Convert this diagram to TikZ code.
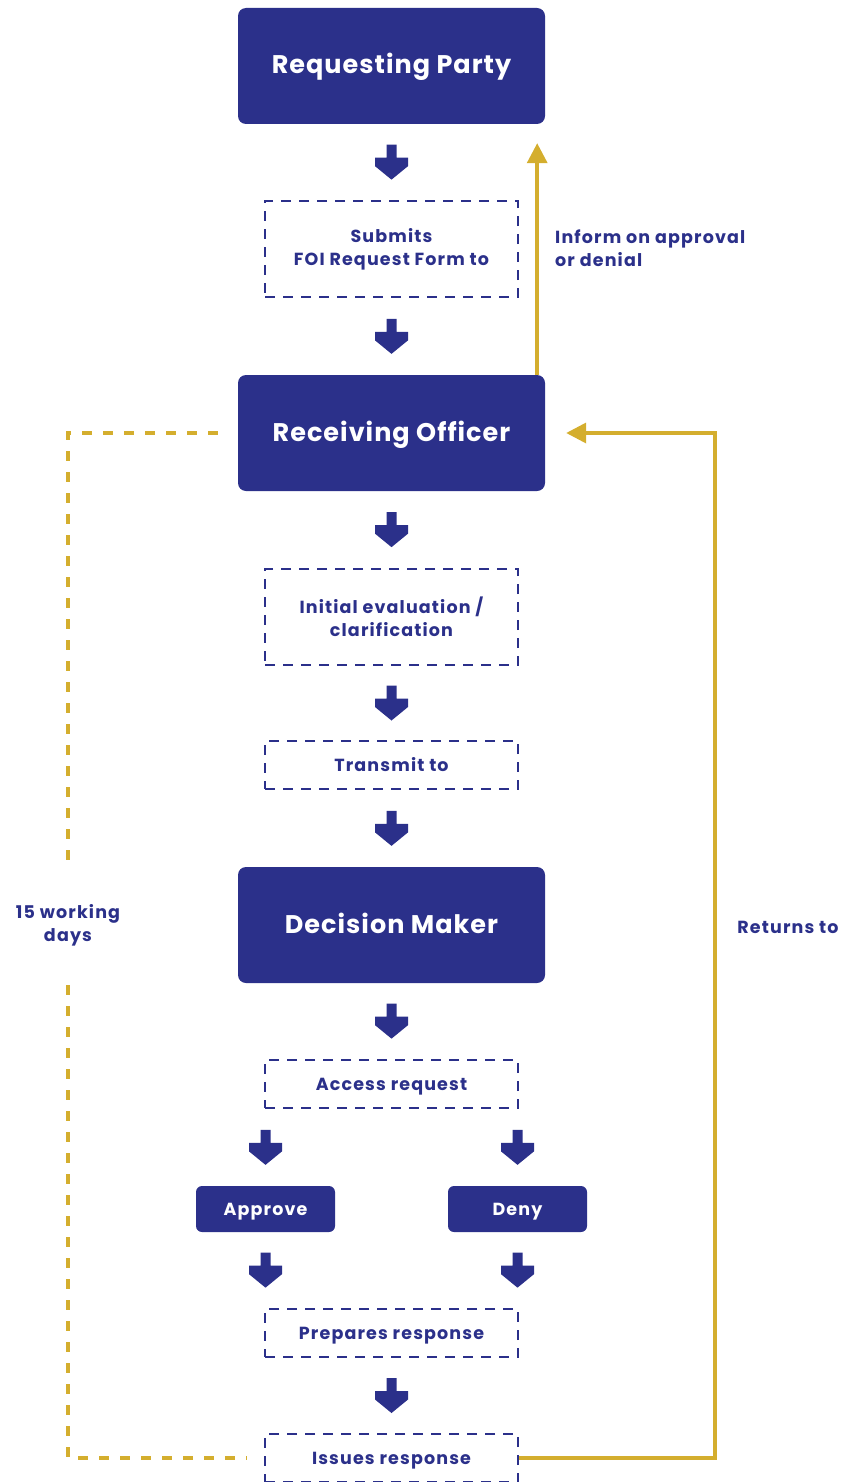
\documentclass[tikz,border=0pt]{standalone}
\usepackage{fontspec}
\setmainfont{Poppins}
\usetikzlibrary{arrows.meta,calc}
\definecolor{navy}{RGB}{43,48,138}
\definecolor{gold}{RGB}{212,174,46}
\newcommand{\bigtxt}{\fontsize{25.5}{30}\selectfont\bfseries\addfontfeatures{LetterSpace=4}}
\newcommand{\smtxt}{\fontsize{17.5}{23}\selectfont\bfseries\addfontfeatures{LetterSpace=6.5}}
\begin{document}
\begin{tikzpicture}[x=1pt,y=-1pt,
  oneline/.style={text height=13pt, text depth=0pt},
  mainbox/.style={rectangle, rounded corners=8pt, fill=navy, text=white,
    minimum width=307pt, minimum height=116pt, inner sep=0pt,
    text height=16pt, text depth=0pt, font=\bigtxt},
  dbox/.style={rectangle, draw=navy, line width=1.8pt, dash pattern=on 10pt off 8pt,
    minimum width=253pt, minimum height=48pt, inner sep=0pt, text=navy, align=center,
    font=\smtxt},
  smallbox/.style={rectangle, rounded corners=6pt, fill=navy, text=white,
    minimum width=139pt, minimum height=46pt, inner sep=0pt, oneline,
    font=\smtxt},
  lbl/.style={text=navy, inner sep=0pt, font=\smtxt},
  ysolid/.style={draw=gold, line width=3.5pt, -{Triangle[length=20pt,width=20pt]}},
  ydash/.style={draw=gold, line width=4pt, dash pattern=on 10pt off 11pt},
  dn/.pic={\fill[navy] (-5,-17.5) -- (5,-17.5) -- (5,-4.5) -- (16.5,-4.5) -- (16.5,4) -- (0,17.5)
     -- (-16.5,4) -- (-16.5,-4.5) -- (-5,-4.5) -- cycle;}
]
\useasboundingbox (0,0) rectangle (844,1482);

\node[mainbox] (req) at (391.5,66) {Requesting Party};
\node[dbox, minimum height=96pt] (submit) at (391.5,249) {Submits\\FOI Request Form to};
\node[mainbox] (ro) at (391.5,433) {Receiving Officer};
\node[dbox, minimum height=96pt] (eval) at (391.5,617) {Initial evaluation /\\clarification};
\node[dbox, oneline] (trans) at (391.5,765) {Transmit to};
\node[mainbox] (dm) at (391.5,925) {Decision Maker};
\node[dbox, oneline] (access) at (391.5,1084) {Access request};
\node[smallbox] (approve) at (265.5,1209) {Approve};
\node[smallbox] (deny) at (517.5,1209) {Deny};
\node[dbox, oneline] (prep) at (391.5,1333) {Prepares response};
\node[dbox, oneline] (issues) at (391.5,1458) {Issues response};

% block arrows
\pic at ($(req.south)!0.5!(submit.north)$) {dn};
\pic at ($(submit.south)!0.5!(ro.north)$) {dn};
\pic at ($(ro.south)!0.5!(eval.north)$) {dn};
\pic at ($(eval.south)!0.5!(trans.north)$) {dn};
\pic at ($(trans.south)!0.5!(dm.north)$) {dn};
\pic at ($(dm.south)!0.5!(access.north)$) {dn};
\pic at ($(approve.north)!0.5!(approve.north|-access.south)$) {dn};
\pic at ($(deny.north)!0.5!(deny.north|-access.south)$) {dn};
\pic at ($(approve.south)!0.5!(approve.south|-prep.north)$) {dn};
\pic at ($(deny.south)!0.5!(deny.south|-prep.north)$) {dn};
\pic at ($(prep.south)!0.5!(issues.north)$) {dn};

% yellow connectors
\coordinate (upstart) at ([xshift=-8pt]ro.north east);
\coordinate (uptip) at ([xshift=-8pt,yshift=-19pt]req.south east);
\draw[ysolid] (upstart) -- (uptip);
\node[lbl, anchor=west, align=left] (inform) at (555,248) {Inform on approval\\or denial};

\coordinate (rettip) at ([xshift=21pt]ro.east);
\coordinate (retcorner) at (715,1458);
\draw[ysolid] (issues.east) -- (retcorner) |- (rettip);
\node[lbl, oneline] (returns) at (788,927) {Returns to};

\coordinate (dstart) at ([xshift=-20pt]ro.west);
\coordinate (dgap1) at (68,862);
\coordinate (dgap2) at (68,985);
\coordinate (dend) at ([xshift=-17pt]issues.west);
\draw[ydash] (dstart) -| (dgap1);
\draw[ydash] (dgap2) |- (dend);
\node[lbl, align=center] (days) at (68,925) {15 working\\days};
\end{tikzpicture}
\end{document}
